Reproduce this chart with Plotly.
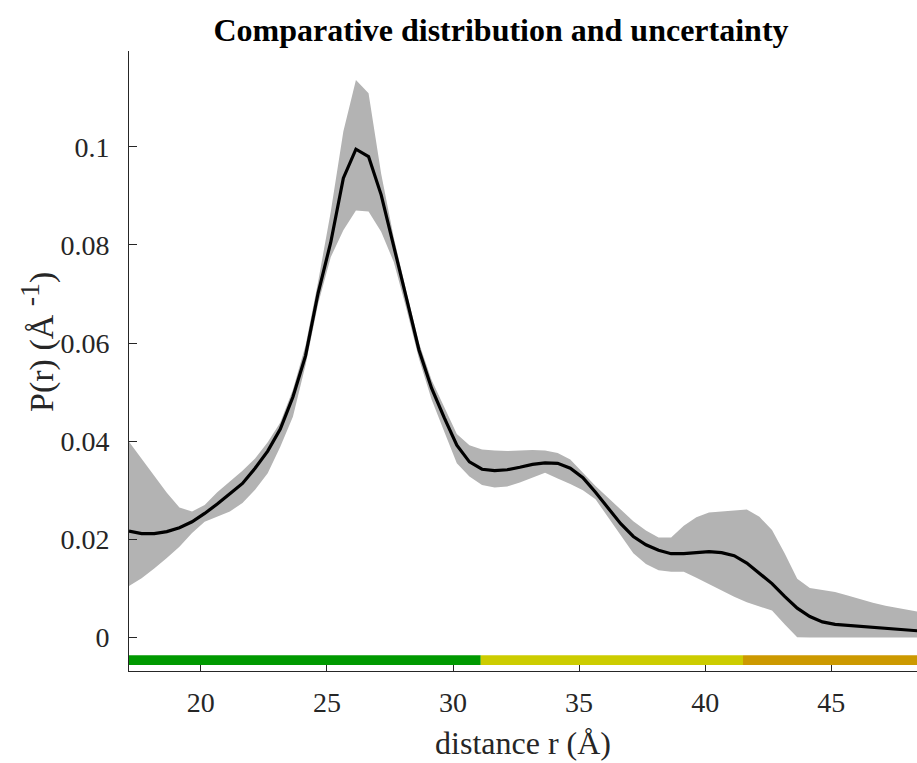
import plotly.graph_objects as go

# distance grid (Å)
r = [17.15, 17.65, 18.15, 18.65, 19.15, 19.65, 20.15, 20.65, 21.15, 21.65,
     22.15, 22.65, 23.15, 23.65, 24.15, 24.65, 25.15, 25.65, 26.15, 26.65,
     27.15, 27.65, 28.15, 28.65, 29.15, 29.65, 30.15, 30.65, 31.15, 31.65,
     32.15, 32.65, 33.15, 33.65, 34.15, 34.65, 35.15, 35.65, 36.15, 36.65,
     37.15, 37.65, 38.15, 38.65, 39.15, 39.65, 40.15, 40.65, 41.15, 41.65,
     42.15, 42.65, 43.15, 43.65, 44.15, 44.65, 45.15, 45.65, 46.15, 46.65,
     47.15, 47.65, 48.15, 48.65]

p_mean = [0.0217, 0.0212, 0.0212, 0.0216, 0.0224, 0.0236, 0.0253, 0.0272, 0.0293, 0.0314,
          0.0345, 0.0380, 0.0425, 0.0490, 0.0574, 0.0702, 0.0805, 0.0936, 0.0995, 0.0980,
          0.0902, 0.0800, 0.0692, 0.0586, 0.0508, 0.0448, 0.0392, 0.0358, 0.0343, 0.0340,
          0.0342, 0.0347, 0.0353, 0.0356, 0.0355, 0.0345, 0.0326, 0.0296, 0.0264, 0.0232,
          0.0206, 0.0189, 0.0178, 0.0171, 0.0171, 0.0173, 0.0175, 0.0173, 0.0167, 0.0152,
          0.0131, 0.0110, 0.0084, 0.0060, 0.0043, 0.0032, 0.0027, 0.0025, 0.0023, 0.0021,
          0.0019, 0.0017, 0.0015, 0.0013]

p_upper = [0.0399, 0.0365, 0.0330, 0.0295, 0.0265, 0.0257, 0.0270, 0.0296, 0.0318, 0.0340,
           0.0365, 0.0398, 0.0438, 0.0505, 0.0595, 0.0725, 0.0867, 0.1031, 0.1136, 0.1109,
           0.0945, 0.0815, 0.0705, 0.0600, 0.0525, 0.0470, 0.0415, 0.0392, 0.0383, 0.0381,
           0.0380, 0.0381, 0.0382, 0.0381, 0.0376, 0.0363, 0.0336, 0.0309, 0.0285, 0.0260,
           0.0237, 0.0218, 0.0204, 0.0204, 0.0228, 0.0245, 0.0255, 0.0257, 0.0259, 0.0261,
           0.0246, 0.0219, 0.0172, 0.0120, 0.0101, 0.0097, 0.0093, 0.0086, 0.0078, 0.0071,
           0.0065, 0.0060, 0.0055, 0.0051]

p_lower = [0.0105, 0.0121, 0.0141, 0.0162, 0.0185, 0.0213, 0.0236, 0.0246, 0.0257, 0.0274,
           0.0301, 0.0335, 0.0389, 0.0450, 0.0555, 0.0680, 0.0775, 0.0830, 0.0870, 0.0868,
           0.0827, 0.0765, 0.0670, 0.0568, 0.0485, 0.0420, 0.0355, 0.0328, 0.0311, 0.0306,
           0.0308, 0.0316, 0.0326, 0.0336, 0.0324, 0.0313, 0.0300, 0.0282, 0.0245, 0.0208,
           0.0172, 0.0150, 0.0137, 0.0134, 0.0134, 0.0122, 0.0109, 0.0096, 0.0083, 0.0072,
           0.0063, 0.0055, 0.0027, 0.0001, 0.0, 0.0, 0.0, 0.0, 0.0, 0.0,
           0.0, 0.0, 0.0, 0.0]

# reliability bar segments (start, end, colour)
seg_start = [17.15, 31.1, 41.5]
seg_end = [31.1, 41.5, 48.4]
seg_color = ["#009900", "#cccc00", "#cc9900"]
bar_y = [-0.0056, -0.0036]

x_ticks = [20, 25, 30, 35, 40, 45]
y_ticks = [0, 0.02, 0.04, 0.06, 0.08, 0.1]
y_ticktext = ["0", "0.02", "0.04", "0.06", "0.08", "0.1"]

x_range = [17.15, 48.4]
y_range = [-0.0068, 0.1195]

FONT = "Liberation Serif, Times New Roman, serif"
TXT = "#262626"

fig = go.Figure()
fig.add_trace(go.Scatter(x=r, y=p_lower, mode="lines", line=dict(width=0, color="#b3b3b3"),
                         hoverinfo="skip", showlegend=False))
fig.add_trace(go.Scatter(x=r, y=p_upper, mode="lines", line=dict(width=0, color="#b3b3b3"),
                         fill="tonexty", fillcolor="#b3b3b3", hoverinfo="skip", showlegend=False))
fig.add_trace(go.Scatter(x=r, y=p_mean, mode="lines", line=dict(width=3.2, color="black"),
                         showlegend=False))

for s, e, c in zip(seg_start, seg_end, seg_color):
    fig.add_shape(type="rect", xref="x", yref="y", x0=s, x1=e, y0=bar_y[0], y1=bar_y[1],
                  fillcolor=c, line=dict(width=0), layer="above")

fig.update_layout(
    width=917, height=763,
    margin=dict(l=129, r=0, t=51, b=92),
    paper_bgcolor="white", plot_bgcolor="white",
    font=dict(family=FONT, size=28, color=TXT),
    title=dict(text="<b>Comparative distribution and uncertainty</b>",
               font=dict(family=FONT, size=32, color="black"),
               x=(501 - 129) / 788, xref="paper", xanchor="center",
               y=1 - 30 / 763, yref="container", yanchor="middle"),
    xaxis=dict(range=x_range, tickvals=x_ticks, ticks="inside", ticklen=8, tickcolor=TXT,
               showline=True, linecolor=TXT, linewidth=1, showgrid=False, zeroline=False,
               tickfont=dict(family=FONT, size=28, color=TXT), ticklabelstandoff=6,
               title=dict(text="distance r (Å)", font=dict(family=FONT, size=32, color=TXT),
                          standoff=15)),
    yaxis=dict(range=y_range, tickvals=y_ticks, ticktext=y_ticktext, ticks="inside",
               ticklen=8, tickcolor=TXT, showline=True, linecolor=TXT, linewidth=1,
               showgrid=False, zeroline=False, ticklabelstandoff=13,
               tickfont=dict(family=FONT, size=28, color=TXT)),
    annotations=[dict(text="P(r) (Å <sup><span style='font-size:28px'>-1</span></sup>)",
                      xref="paper", yref="paper",
                      x=-(129 - 37) / 788, y=(671 - 342) / 620, xanchor="center",
                      yanchor="middle", textangle=-90, showarrow=False,
                      font=dict(family=FONT, size=34, color=TXT))],
)

fig.write_html("out.html")
